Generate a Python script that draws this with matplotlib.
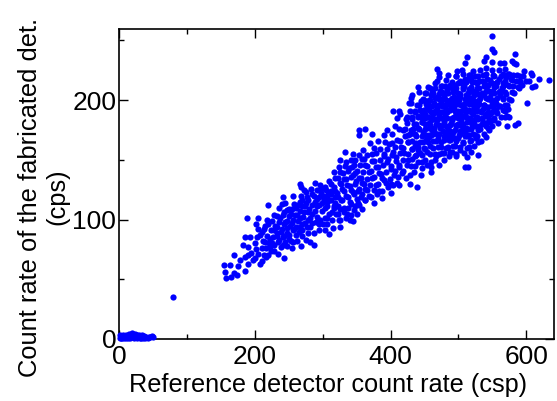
import numpy as np
import matplotlib
matplotlib.use('Agg')
import matplotlib.pyplot as plt
from matplotlib.ticker import MultipleLocator

plt.rcParams['font.family'] = ['Liberation Sans', 'DejaVu Sans']

# cluster at the origin
zero_pts = [(1,1),(2,3),(3,0.5),(4,2),(5,1),(6,3),(7,0.5),(8,2),(10,1),(11,3),(13,1),(14,4),(15,2),(16,0.5),(17,3.5),
            (18,1.5),(19,5),(20,2),(21,3.5),(22,0.5),(23,4.5),(24,2),(25,3),(26,1),(27,3.5),(28,1.5),(30,3),(31,0.8),
            (32,2.5),(33,1),(34,3),(36,1),(37,2.5),(39,1),(40,2),(42,0.8),(44,1.5),(46,2),(48,2.5),(50,2),(80,35)]

# lower part of the band
low_pts = [(154,62),(163,62),(156,56),(158,51),(165,52),(170,55),(174,54),(175,61),(170,70),(178,66),(185,57),(185,69),
           (190,63),(182,79),(185,85),(193,85),(190,77),(195,72),(198,66),(201,68),(207,63),(210,65),(188,101),(205,101),
           (202,96),(205,92),(219,112),(241,119),(240,113),(256,120),(258,113),(267,130),(268,127),(283,126),(288,131),
           (291,125),(287,120),(277,119),(243,68),(234,71),(228,74),(220,70),(216,69),(255,76),(247,78),(268,78),(275,83),
           (281,81),(287,79),(278,89),(287,89),(270,91),(309,88),(303,91),(315,93),(326,94),
           (208,87),(212,82),(216,76),(214,92),(218,86),(221,80),(224,74),(220,96),(224,91),(227,85),(229,79),(226,99),
           (230,95),(233,89),(236,83),(238,77),(232,103),(236,98),(240,92),(243,86),(245,81),(241,104),(245,98),(248,93),
           (251,87),(253,82),(247,108),(251,103),(255,97),(258,92),(260,87),(262,82),(255,109),(259,104),(263,99),(266,94),
           (263,112),(267,107),(271,102),(274,97),(277,94),(270,116),(274,111),(278,106),(282,101),(285,97),(275,123),(279,116),
           (284,112),(288,107),(292,102),(295,96),(291,117),(295,112),(299,107),(303,101),(307,96),(298,122),(302,116),
           (306,111),(310,105),(314,100),(296,129),(304,127),(308,121),(312,116),(316,110),(320,105),(324,100),
           (190,70),(205,71),(214,70),(202,75),(210,76),(222,77),(200,80),(215,81),(225,80),(234,81),(242,79),(256,81),
           (203,85),(222,84),(232,86),(241,85),(250,84),(270,86),(210,90),(228,91),(238,90),(247,89),(256,91),(265,90),
           (215,95),(232,94),(243,96),(252,95),(260,94),(270,96),(282,94),(295,91),(218,100),(237,101),(248,99),(257,100),
           (267,101),(279,100),(290,98),(300,96),(228,104),(243,106),(253,105),(262,104),(272,106),(285,105),(296,100),(306,101),
           (235,110),(250,109),(260,110),(270,111),(280,109),(292,111),(303,110),(314,106),(245,114),(267,115),(276,114),
           (288,115),(299,114),(310,116),(322,111),(268,120),(284,121),(295,119),(306,120),(318,119),(272,125),(298,126),(312,124)]

# middle part of the band
mid_pts = [(333,157),(353,154),(341,150),(326,150),(360,158),(370,164),(382,166),(354,171),(354,175),(362,176),(373,172),
           (395,175),(390,171),(402,172),(406,178),(412,176),(419,175),(400,130),(413,129),(429,130),(429,137),(439,127),
           (310,132),(316,127),(321,122),(327,116),(332,110),(336,105),(340,100),(316,140),(322,135),(327,130),(332,124),
           (337,119),(341,113),(346,108),(324,144),(330,139),(335,134),(340,128),(345,123),(350,117),(354,112),(334,148),
           (339,143),(344,137),(349,132),(353,126),(358,121),(363,116),(346,146),(351,141),(356,135),(361,130),(366,125),
           (371,119),(376,114),(358,151),(363,146),(368,140),(373,135),(378,129),(383,124),(388,118),(372,155),(376,149),
           (381,144),(386,138),(391,133),(396,127),(401,122),(385,159),(390,153),(395,148),(400,142),(405,137),(410,131),
           (398,163),(403,157),(408,152),(413,146),(418,141),(423,135),(410,167),(415,161),(420,156),(425,150),(430,145),
           (434,140),(421,170),(426,165),(431,159),(436,153),(441,148),(445,137),
           (325,100),(335,101),(345,99),(322,105),(331,106),(341,104),(351,105),(316,111),(326,109),(337,110),(348,111),(358,109),
           (306,115),(318,114),(329,116),(340,115),(352,114),(363,116),(300,120),(312,121),(323,119),(335,120),(346,121),(357,119),
           (368,120),(380,121),(305,125),(318,124),(329,126),(341,125),(352,124),(363,126),(375,125),(387,124),(312,130),(325,131),
           (336,129),(347,130),(358,131),(370,129),(381,130),(393,131),(404,129),(318,135),(331,134),(342,136),(353,135),(365,134),
           (376,136),(388,135),(399,134),(411,136),(326,140),(337,141),(348,139),(359,140),(371,141),(383,139),(394,140),(406,141),
           (417,139),(333,145),(343,144),(355,146),(366,145),(378,144),(389,146),(401,145),(412,144),(424,146),(436,145),(348,150),
           (361,151),(373,149),(384,150),(396,151),(408,149),(419,150),(431,151),(345,155),(366,154),(379,156),(391,155),(402,154),
           (414,156),(426,155),(437,154),(375,160),(395,159),(407,161),(419,160),(431,159),(392,165),(402,164),(414,166),(425,165),(437,164)]

# dense upper part of the band
high_pts = [(550,254),(549,243),(552,240),(584,239),(512,236),(510,231),(541,236),(537,233),(549,232),(579,233),(582,231),
            (585,230),(561,231),(567,231),(468,226),(471,223),(472,219),(465,214),(475,212),(441,211),(442,207),(432,204),
            (430,202),(445,199),(427,198),(430,198),(439,196),(404,191),(412,191),(414,188),(410,185),(429,191),(424,186),
            (423,184),(432,184),(437,180),(496,220),(498,224),(505,225),(522,224),(532,225),(541,227),(550,225),(559,225),
            (568,226),(574,222),(586,221),(597,224),(607,223),(608,221),(604,216),(595,220),(618,218),(634,217),(613,212),
            (609,211),(594,213),(589,210),(601,198),(579,207),(577,200),(572,187),(569,186),(574,186),(588,181),(584,179),
            (571,178),(550,178),(545,175),(541,169),(529,165),(515,161),(529,154),(510,144),(514,144),(496,153),(486,153),
            (478,150),(471,146),(467,153),(459,148),(459,144),(459,140),(446,148),(446,143),
            (428,172),(433,176),(438,170),(442,176),(446,182),(450,188),(454,194),(458,200),(462,206),(448,165),(452,171),
            (456,177),(460,183),(464,189),(468,195),(472,201),(476,207),(480,212),(441,158),(446,154),(451,159),(455,165),
            (460,171),(464,177),(468,183),(472,189),(476,195),(480,201),(484,206),(488,213),(458,155),(463,160),(467,166),
            (471,172),(475,178),(479,184),(483,190),(487,196),(491,202),(495,208),(499,214),(466,150),(471,155),(475,161),
            (479,167),(483,173),(487,179),(491,185),(495,191),(499,197),(503,203),(507,209),(511,215),(515,221),(479,156),
            (484,161),(488,167),(492,173),(496,179),(500,185),(504,191),(508,197),(512,203),(516,209),(520,215),(525,220),
            (490,157),(495,162),(499,168),(503,174),(507,180),(511,186),(515,192),(519,198),(523,204),(527,210),(531,216),
            (536,221),(502,158),(506,164),(510,170),(514,176),(518,182),(522,188),(526,194),(530,200),(534,206),(538,212),
            (542,218),(512,152),(517,166),(521,172),(525,178),(529,184),(533,190),(537,196),(541,202),(545,208),(549,214),
            (553,220),(528,170),(532,176),(536,182),(540,188),(544,194),(548,200),(552,206),(556,212),(560,218),(565,222),
            (541,178),(545,184),(549,190),(553,196),(557,202),(561,208),(565,214),(570,219),(553,183),(557,189),(561,195),
            (565,201),(569,207),(573,213),(577,218),(565,192),(569,196),(573,193),(581,212),(585,216),(590,216),
            (436,162),(440,186),(444,192),(436,190),(449,200),(452,206),(458,210),(454,146),(450,150),
            (444,156),(453,157),(465,155),(476,156),(487,157),(497,155),(508,156),(519,157),(441,161),(449,160),(458,162),(470,161),
            (481,160),(492,162),(503,161),(513,160),(523,162),(432,166),(443,165),(452,167),(463,166),(474,165),(486,167),(497,166),
            (507,165),(518,167),(533,166),(425,171),(436,172),(447,170),(457,171),(468,172),(479,170),(491,171),(502,172),(513,170),
            (524,171),(537,172),(422,176),(430,175),(441,177),(451,176),(461,175),(473,177),(484,176),(495,175),(506,177),(518,176),
            (529,175),(544,177),(424,181),(434,180),(446,182),(456,181),(467,180),(478,182),(489,181),(500,180),(512,182),(523,181),
            (534,180),(547,182),(558,181),(431,186),(441,187),(451,185),(461,186),(472,187),(483,185),(494,186),(506,187),(517,185),
            (528,186),(539,187),(552,185),(563,186),(436,191),(447,190),(456,192),(466,191),(477,190),(488,192),(499,191),(511,190),
            (522,192),(533,191),(544,190),(556,192),(568,191),(442,196),(452,197),(461,195),(471,196),(482,197),(493,195),(504,196),
            (516,197),(527,195),(538,196),(549,197),(560,195),(571,196),(448,201),(456,200),(466,202),(476,201),(487,200),(498,202),
            (509,201),(521,200),(532,202),(543,201),(554,200),(565,202),(575,201),(450,206),(461,207),(471,205),(481,206),(492,207),
            (503,205),(514,206),(526,207),(537,205),(548,206),(559,207),(570,205),(582,206),(455,211),(466,210),(476,212),(486,211),
            (497,210),(508,212),(519,211),(531,210),(542,212),(553,211),(564,210),(575,212),(587,211),(469,216),(481,217),(491,215),
            (502,216),(513,217),(524,215),(535,216),(546,217),(557,215),(568,216),(579,217),(590,215),(600,216),(484,221),(497,220),
            (506,222),(517,221),(529,220),(540,222),(551,221),(562,220),(573,222),(580,221),(590,220)]

# extra points to close the solid core of the upper blob
core_pts = [(448,173),(456,169),(462,172),(470,168),(477,174),(485,170),(494,168),(501,171),(509,173),(516,171),(526,168),
            (450,180),(458,179),(464,174),(472,179),(481,178),(487,174),(497,178),(503,179),(511,177),(520,179),(531,178),
            (445,186),(455,186),(465,184),(474,185),(480,187),(490,183),(497,188),(504,183),(514,185),(524,184),(534,185),(543,182),
            (449,192),(459,190),(469,193),(475,190),(485,192),(494,193),(502,188),(509,193),(518,190),(527,191),(536,193),(546,188),
            (455,197),(464,198),(474,198),(480,194),(490,198),(496,199),(507,195),(513,199),(522,196),(530,197),(541,194),(551,194),
            (460,204),(469,203),(479,204),(484,199),(494,203),(501,200),(511,204),(518,202),(525,199),(535,204),(546,203),(556,198),
            (473,208),(483,209),(490,210),(499,206),(506,211),(516,207),(522,208),(529,205),(540,208),(551,208),(561,204),
            (494,213),(505,214),(510,218),(519,218),(527,214),(538,215),(544,213),(555,214),(566,212)]

all_pts = np.array(zero_pts + low_pts + mid_pts + high_pts + core_pts)

fig, ax = plt.subplots(figsize=(5.57, 4.01), dpi=100)
fig.subplots_adjust(left=119/557, right=553.5/557, top=1-28.5/401, bottom=1-339/401)

ax.plot(all_pts[:, 0], all_pts[:, 1], 'o', color='#0000ff', ms=4.5, mew=0, clip_on=False, zorder=3)

ax.set_xlim(0, 640)
ax.set_ylim(0, 260)
ax.xaxis.set_major_locator(MultipleLocator(200))
ax.xaxis.set_minor_locator(MultipleLocator(100))
ax.yaxis.set_major_locator(MultipleLocator(100))
ax.yaxis.set_minor_locator(MultipleLocator(50))
ax.tick_params(which='major', direction='in', top=True, right=True, length=6.5, width=1, labelsize=19)
ax.tick_params(which='minor', direction='in', top=True, right=True, length=3.5, width=1)
ax.tick_params(axis='x', which='major', pad=4.5)
ax.tick_params(axis='y', which='major', pad=2)
for s in ax.spines.values():
    s.set_linewidth(1.2)

ax.set_xlabel('Reference detector count rate (csp)', fontsize=18.2, labelpad=3, x=0.481)
ax.set_ylabel('Count rate of the fabricated det.\n(cps)', fontsize=18.4, labelpad=2, linespacing=1.2, y=0.457)

fig.savefig('out.png', dpi=100)
